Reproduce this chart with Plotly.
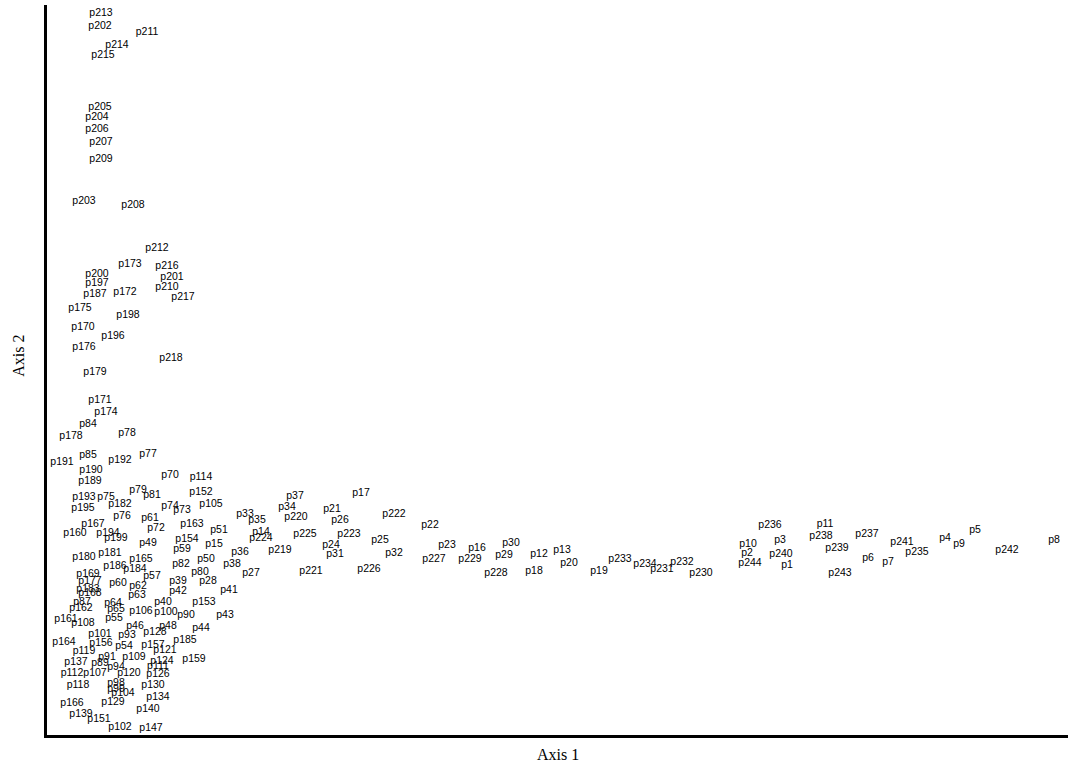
import plotly.graph_objects as go

# Ordination scores
labels = [
    "p213", "p202", "p211", "p214", "p215", "p205", "p204", "p206", "p207", "p209",
    "p203", "p208", "p212", "p173", "p216", "p200", "p201", "p197", "p210", "p187",
    "p172", "p217", "p175", "p198", "p170", "p196", "p176", "p218", "p179", "p171",
    "p174", "p84", "p178", "p78", "p191", "p85", "p192", "p77", "p190", "p189",
    "p70", "p114", "p193", "p75", "p79", "p81", "p152", "p195", "p182", "p74",
    "p73", "p105", "p76", "p61", "p167", "p163", "p51", "p72", "p160", "p194",
    "p199", "p154", "p49", "p15", "p59", "p180", "p181", "p165", "p50", "p38",
    "p186", "p184", "p82", "p80", "p57", "p169", "p177", "p60", "p62", "p39",
    "p28", "p183", "p168", "p63", "p42", "p41", "p87", "p162", "p64", "p65",
    "p40", "p153", "p106", "p100", "p90", "p43", "p161", "p108", "p55", "p46",
    "p48", "p128", "p44", "p101", "p93", "p164", "p156", "p54", "p157", "p185",
    "p121", "p119", "p91", "p89", "p137", "p109", "p124", "p111", "p159", "p94",
    "p112", "p107", "p120", "p126", "p118", "p98", "p99", "p104", "p130", "p134",
    "p166", "p129", "p140", "p139", "p151", "p102", "p147",
    "p37", "p17", "p34", "p33", "p21", "p222", "p35", "p220", "p26", "p22",
    "p14", "p224", "p225", "p223", "p25", "p24", "p36", "p219", "p31", "p32",
    "p23", "p227", "p27", "p221", "p226", "p16", "p229", "p30", "p29", "p228",
    "p12", "p13", "p18", "p20", "p19", "p233", "p234", "p231", "p232", "p230",
    "p236", "p11", "p10", "p3", "p238", "p237", "p241", "p4", "p5", "p9",
    "p8", "p242", "p2", "p240", "p239", "p235", "p244", "p1", "p6", "p7", "p243",
]

axis1 = [
    54, 53, 100, 70, 56, 53, 50, 50, 54, 54,
    37, 86, 110, 83, 120, 50, 125, 50, 120, 48,
    78, 136, 33, 81, 36, 66, 37, 124, 48, 53,
    59, 41, 24, 80, 15, 41, 73, 101, 44, 43,
    123, 154, 37, 59, 91, 105, 154, 36, 73, 123,
    135, 164, 75, 103, 46, 145, 172, 109, 28, 61,
    69, 140, 101, 167, 135, 37, 63, 94, 159, 185,
    68, 88, 134, 153, 105, 41, 43, 71, 91, 131,
    161, 41, 43, 90, 131, 182, 35, 34, 66, 69,
    116, 157, 94, 119, 139, 178, 19, 36, 67, 88,
    121, 108, 154, 53, 80, 17, 54, 77, 106, 138,
    118, 37, 60, 53, 29, 87, 115, 111, 147, 69,
    25, 48, 82, 111, 31, 69, 69, 76, 106, 111,
    25, 66, 101, 34, 52, 73, 104,
    248, 314, 240, 198, 285, 347, 210, 249, 293, 383,
    214, 214, 258, 302, 333, 284, 193, 233, 288, 347,
    400, 387, 204, 264, 322, 430, 423, 464, 457, 449,
    492, 515, 487, 522, 552, 573, 598, 615, 635, 654,
    723, 778, 701, 733, 774, 820, 855, 898, 928, 912,
    1007, 960, 700, 734, 790, 870, 703, 740, 821, 841, 793,
]

axis2 = [
    722, 709, 703, 690, 680, 628, 618, 606, 593, 576,
    534, 530, 487, 471, 469, 461, 458, 452, 448, 441,
    443, 438, 427, 420, 408, 399, 388, 377, 363, 335,
    323, 311, 299, 302, 273, 280, 275, 281, 265, 254,
    260, 258, 238, 238, 245, 240, 243, 227, 231, 229,
    225, 231, 219, 217, 211, 211, 205, 207, 202, 202,
    197, 196, 192, 191, 186, 178, 182, 176, 176, 171,
    169, 166, 171, 163, 159, 161, 154, 152, 149, 154,
    154, 146, 142, 140, 144, 145, 133, 127, 132, 126,
    133, 133, 124, 123, 120, 120, 116, 112, 117, 109,
    109, 103, 107, 101, 100, 93, 92, 89, 90, 95,
    85, 84, 78, 72, 73, 78, 74, 69, 76, 68,
    62, 62, 62, 61, 50, 52, 46, 42, 50, 38,
    32, 33, 26, 21, 16, 8, 7,
    239, 242, 228, 221, 226, 221, 215, 218, 215, 210,
    203, 197, 201, 201, 195, 190, 183, 185, 181, 182,
    190, 176, 162, 164, 166, 187, 176, 192, 180, 162,
    181, 185, 164, 172, 164, 176, 171, 166, 173, 162,
    210, 211, 191, 195, 199, 201, 193, 197, 205, 191,
    195, 185, 182, 181, 187, 183, 172, 170, 177, 173, 162,
]

x_range = [0, 1021]
y_range = [0, 730]

fig = go.Figure()
fig.add_trace(go.Scatter(
    x=axis1, y=axis2, text=labels, mode="text",
    textposition="middle center",
    textfont=dict(family="Liberation Sans, Arial, sans-serif", size=10.5, color="#000000"),
    hoverinfo="text", showlegend=False,
))

axis_style = dict(
    showline=True, linewidth=3, linecolor="#000000", mirror=False,
    showgrid=False, zeroline=False, ticks="", showticklabels=False,
    fixedrange=True,
)

fig.update_layout(
    width=1068, height=766,
    margin=dict(l=47, r=0, t=5, b=31, pad=0),
    paper_bgcolor="#ffffff", plot_bgcolor="#ffffff",
    xaxis=dict(range=x_range, **axis_style),
    yaxis=dict(range=y_range, **axis_style),
    annotations=[
        dict(text="Axis 1", xref="paper", yref="paper", x=0.5, y=-0.027,
             xanchor="center", yanchor="middle", showarrow=False,
             font=dict(family="Liberation Serif, Times New Roman, serif", size=16, color="#000000")),
        dict(text="Axis 2", xref="paper", yref="paper", x=-0.028, y=0.52,
             xanchor="center", yanchor="middle", showarrow=False, textangle=-90,
             font=dict(family="Liberation Serif, Times New Roman, serif", size=16, color="#000000")),
    ],
)

fig.write_html(
    "out.html",
    config={"displayModeBar": False},
    post_script="document.body.style.margin='0px';document.body.style.overflow='hidden';",
)
